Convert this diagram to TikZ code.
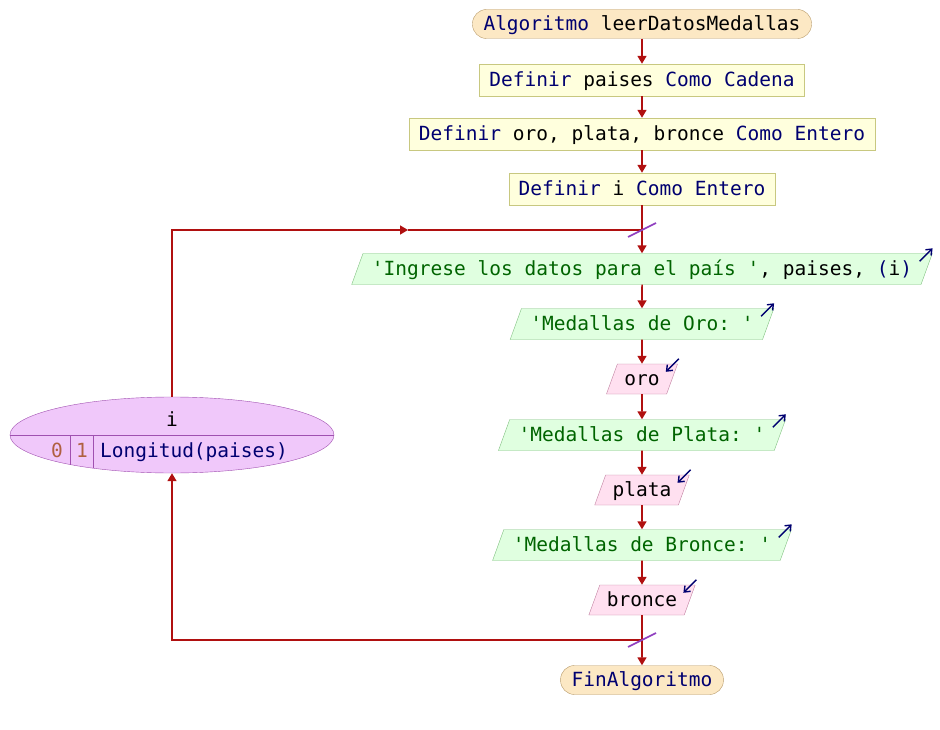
\documentclass[tikz,border=0pt]{standalone}
\usepackage{fontspec}
\setmonofont{DejaVu Sans Mono}
\usetikzlibrary{shapes.geometric,arrows.meta,calc}

\definecolor{kwblue}{HTML}{000070}
\definecolor{litgreen}{HTML}{006400}
\definecolor{numbrown}{HTML}{B06040}
\definecolor{flowred}{HTML}{B01010}
\definecolor{slashpurple}{HTML}{9040C0}
\definecolor{procfill}{HTML}{FFFFDD}
\definecolor{procline}{HTML}{C8C880}
\definecolor{termfill}{HTML}{FCE8C4}
\definecolor{termline}{HTML}{B89B6A}
\definecolor{outfill}{HTML}{E0FFE0}
\definecolor{outline}{HTML}{80C080}
\definecolor{infill}{HTML}{FFE0F0}
\definecolor{inline}{HTML}{C080A0}
\definecolor{loopfill}{HTML}{F0C8FA}
\definecolor{loopline}{HTML}{A050B0}

\newcommand{\kw}[1]{\textcolor{kwblue}{#1}}
\newcommand{\lit}[1]{\textcolor{litgreen}{#1}}
\newcommand{\numtxt}[1]{\textcolor{numbrown}{#1}}

\begin{document}
\begin{tikzpicture}[x=1pt,y=-1pt,
  every node/.style={font=\ttfamily\fontsize{19.5}{22}\selectfont,
    text height=16.5pt, text depth=3.5pt, inner ysep=0pt},
  procbox/.style={draw=procline, fill=procfill, inner ysep=6pt, inner xsep=10pt},
  termbox/.style={draw=termline, fill=termfill, rounded corners=14pt, inner ysep=4.5pt, inner xsep=11pt},
  outbox/.style={trapezium, trapezium left angle=70, trapezium right angle=110,
    trapezium stretches body, draw=outline, fill=outfill, inner ysep=5.5pt, inner xsep=9pt},
  inbox/.style={trapezium, trapezium left angle=70, trapezium right angle=110,
    trapezium stretches body, draw=inline, fill=infill, inner ysep=5pt, inner xsep=7pt},
  loopnode/.style={ellipse, draw=loopline, fill=loopfill, minimum width=324pt, minimum height=76pt},
  flow/.style={draw=flowred, line width=1.6pt, -{Triangle[length=8pt,width=9pt]}},
  flowline/.style={draw=flowred, line width=1.6pt},
  slash/.style={draw=slashpurple, line width=1.6pt},
  iomark/.style={draw=kwblue, line width=1.4pt, -{Straight Barb[length=5pt,width=8pt]}}]
  \useasboundingbox (0,0) rectangle (940,730);

  % main column
  \node[termbox] (ini) at (642,24) {\kw{Algoritmo} leerDatosMedallas};
  \node[procbox] (def1) at (642,80) {\kw{Definir} paises \kw{Como Cadena}};
  \node[procbox] (def2) at (642,134) {\kw{Definir} oro, plata, bronce \kw{Como Entero}};
  \node[procbox] (def3) at (642,189) {\kw{Definir} i \kw{Como Entero}};
  \node[outbox] (ing) at (642,269) {\lit{'Ingrese los datos para el país '}, paises, \kw{(}i\kw{)}};
  \node[outbox] (moro) at (642,324) {\lit{'Medallas de Oro: '}};
  \node[inbox] (oro) at (642,379) {oro};
  \node[outbox] (mplata) at (642,435) {\lit{'Medallas de Plata: '}};
  \node[inbox] (plata) at (642,490) {plata};
  \node[outbox] (mbronce) at (642,545) {\lit{'Medallas de Bronce: '}};
  \node[inbox] (bronce) at (642,600) {bronce};
  \node[termbox] (fin) at (642,680) {\kw{FinAlgoritmo}};

  % loop
  \node[loopnode] (para) at (172,435) {};
  \draw[loopline] (para.west) -- (para.east);
  \draw[loopline] (70,435) -- (70,465);
  \draw[loopline] (93,435) -- (93,468);
  \node (vari) at (172,420) {i};
  \node (vini) at (57,451) {\numtxt{0}};
  \node (vpaso) at (82,451) {\numtxt{1}};
  \node (vfin) at (194,451) {\kw{Longitud(paises)}};

  \coordinate (jtop) at (642,230);
  \coordinate (jbot) at (642,640);
  \coordinate (lmid) at (408,230);

  \foreach \a/\b in {ini/def1,def1/def2,def2/def3,def3/ing,ing/moro,moro/oro,
    oro/mplata,mplata/plata,plata/mbronce,mbronce/bronce,bronce/fin}
    \draw[flow] (\a) -- (\b);

  \draw[flow] (para.north) |- (lmid);
  \draw[flowline] (lmid) -- (jtop);
  \draw[flow] (jbot) -| (para.south);

  \draw[slash] ($(jtop)+(-14,7)$) -- ($(jtop)+(14,-7)$);
  \draw[slash] ($(jbot)+(-14,7)$) -- ($(jbot)+(14,-7)$);

  % in/out marks
  \foreach \n in {ing,moro,mplata,mbronce}
    \draw[iomark] ($(\n.top right corner)+(-13,8)$) -- ++(13,-13);
  \foreach \n in {oro,plata,bronce}
    \draw[iomark] ($(\n.top right corner)+(1,-5)$) -- ++(-13,13);
\end{tikzpicture}
\end{document}
